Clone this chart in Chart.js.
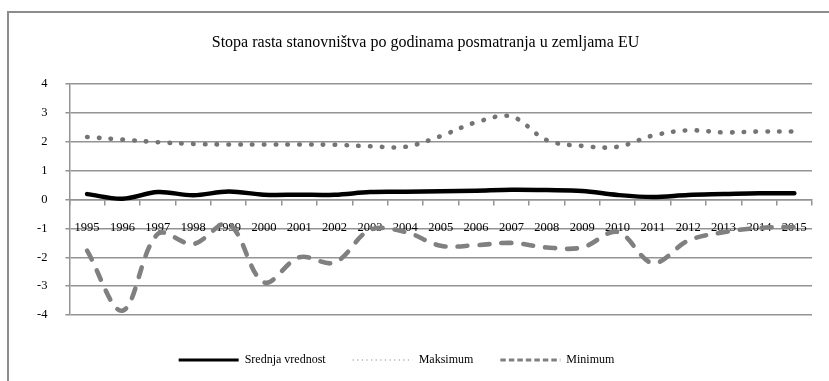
<!DOCTYPE html>
<html>
<head>
<meta charset="utf-8">
<script src="https://cdn.jsdelivr.net/npm/chart.js@4"></script>
<style>
  html, body { margin: 0; padding: 0; background: #fff; overflow: hidden; }
  #frame {
    position: absolute; left: 7px; top: 11px; width: 900px; height: 420px;
    border: 2px solid #8c8c8c;
  }
  #wrap { position: absolute; left: 0; top: 0; width: 829px; height: 381px; }
</style>
</head>
<body>
<div id="frame"></div>
<div id="wrap"><canvas id="chart" width="829" height="381"></canvas></div>
<script>
const years = ['1995', '1996', '1997', '1998', '1999', '2000', '2001', '2002', '2003', '2004', '2005',
  '2006', '2007', '2008', '2009', '2010', '2011', '2012', '2013', '2014', '2015'];
const srednja = [0.19, 0.03, 0.26, 0.15, 0.28, 0.17, 0.17, 0.17, 0.26, 0.27, 0.29,
  0.31, 0.34, 0.33, 0.30, 0.16, 0.09, 0.16, 0.19, 0.22, 0.22];
const maksimum = [2.17, 2.08, 1.99, 1.93, 1.91, 1.91, 1.91, 1.90, 1.85, 1.83, 2.20,
  2.68, 2.88, 2.06, 1.86, 1.83, 2.22, 2.40, 2.33, 2.36, 2.36];
const minimum = [-1.77, -3.85, -1.19, -1.54, -0.84, -2.87, -2.00, -2.18, -1.05, -1.12, -1.60,
  -1.58, -1.50, -1.66, -1.66, -1.12, -2.20, -1.42, -1.13, -0.98, -0.95];

const serif = 'Liberation Serif, Times New Roman, serif';
const gridGray = '#939393';

// legend swatches are thinner than the plotted lines
const legendStyles = [
  { strokeStyle: '#000', lineWidth: 3, lineDash: [], lineCap: 'butt' },
  { strokeStyle: '#8a8a8a', lineWidth: 1.2, lineDash: [1.2, 3.4], lineCap: 'butt' },
  { strokeStyle: '#808080', lineWidth: 3, lineDash: [5.5, 3], lineCap: 'butt' }
];

// nudge title and legend away from the default centred spots
const boxShift = {
  id: 'boxShift',
  afterLayout(chart) {
    const lg = chart.legend;
    if (lg) {
      lg.left -= 19; lg.right -= 19;
      lg.top += 12; lg.bottom += 12;
    }
    const tt = chart.titleBlock;
    if (tt) {
      tt.left += 10; tt.right += 10;
    }
  }
};

new Chart(document.getElementById('chart'), {
  type: 'line',
  data: {
    labels: years,
    datasets: [
      {
        label: 'Srednja vrednost',
        data: srednja,
        borderColor: '#000',
        borderWidth: 4.5,
        borderCapStyle: 'round',
        pointRadius: 0,
        tension: 0.35
      },
      {
        label: 'Maksimum',
        data: maksimum,
        borderColor: '#747474',
        borderWidth: 4.6,
        borderDash: [0.5, 11.3],
        borderCapStyle: 'round',
        pointRadius: 0,
        tension: 0.35
      },
      {
        label: 'Minimum',
        data: minimum,
        borderColor: '#808080',
        borderWidth: 4.6,
        borderDash: [10, 12],
        borderCapStyle: 'round',
        pointRadius: 0,
        tension: 0.35
      }
    ]
  },
  plugins: [boxShift],
  options: {
    responsive: false,
    animation: false,
    layout: {
      padding: { left: 19, right: 17, top: 0, bottom: 17 }
    },
    plugins: {
      title: {
        display: true,
        text: 'Stopa rasta stanovništva po godinama posmatranja u zemljama EU',
        color: '#000',
        font: { family: serif, size: 16, weight: 'normal' },
        padding: { top: 33, bottom: 32 }
      },
      legend: {
        position: 'bottom',
        labels: {
          color: '#000',
          font: { family: serif, size: 12 },
          usePointStyle: true,
          pointStyle: 'line',
          pointStyleWidth: 60,
          boxHeight: 12,
          padding: 27,
          generateLabels: (chart) => chart.data.datasets.map((ds, i) => ({
            text: ds.label,
            datasetIndex: i,
            fillStyle: legendStyles[i].strokeStyle,
            fontColor: '#000',
            pointStyle: 'line',
            hidden: false,
            ...legendStyles[i]
          }))
        }
      },
      tooltip: { enabled: false }
    },
    scales: {
      x: {
        position: { y: 0 },
        offset: true,
        grid: {
          offset: true,
          drawOnChartArea: false,
          drawTicks: true,
          tickLength: 5,
          color: gridGray,
          lineWidth: 1.5
        },
        border: { display: true, color: gridGray, width: 1.5 },
        ticks: {
          color: '#000',
          font: { family: serif, size: 12.5 },
          padding: 16,
          maxRotation: 0,
          autoSkip: false
        }
      },
      y: {
        min: -4,
        max: 4,
        ticks: {
          stepSize: 1,
          color: '#000',
          font: { family: serif, size: 12.5 },
          padding: 18
        },
        grid: {
          color: gridGray,
          lineWidth: 1.5,
          tickLength: 4
        },
        border: { display: true, color: gridGray, width: 1.5 }
      }
    }
  }
});
</script>
</body>
</html>
